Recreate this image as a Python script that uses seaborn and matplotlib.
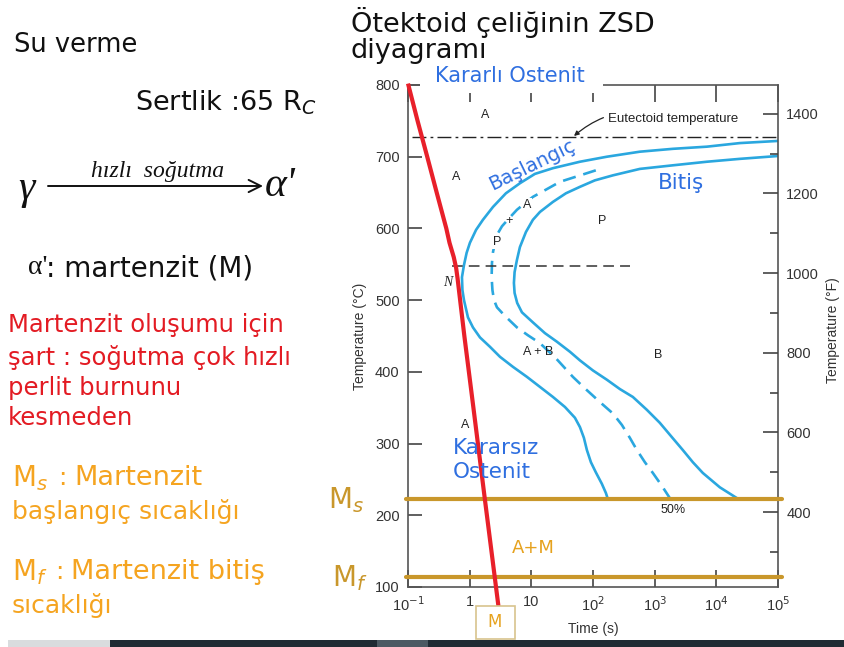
import matplotlib
matplotlib.use("Agg")
import matplotlib.pyplot as plt
from matplotlib.patches import Rectangle
import seaborn as sns

# ---------------- data ----------------
# time in seconds, temperature in °C
start_t = [100000, 24000, 7020, 1970, 575, 168, 61.4, 22.4, 11.4, 6.53, 3.87, 2.39, 1.64, 1.27,
           1.01, 0.893, 0.809, 0.750, 0.763, 0.809, 0.938, 1.13, 1.47, 2.13, 3.10, 5.03, 8.49,
           13.8, 22.4, 35.1, 50.9, 61.4, 71.2, 79.6, 92.5, 111, 139, 162, 172]
start_T = [722, 719, 714, 711, 707, 700, 693, 684, 676, 663, 649, 630, 612, 598,
           580, 566, 549, 532, 514, 500, 476, 462, 448, 435, 421, 407, 393,
           379, 365, 351, 336, 323, 308, 291, 274, 260, 244, 231, 224]

finish_t = [100000, 24000, 7020, 1970, 575, 210, 107, 61.4, 36.4, 22.4, 13.8, 10.6, 8.17, 6.53,
            5.84, 5.35, 5.22, 5.35, 5.90, 7.04, 10.6, 16.6, 26.0, 42.3, 61.4, 99.6, 168, 273,
            443, 748, 1210, 1900, 2860, 4160, 6040, 11400, 21500]
finish_T = [701, 697, 693, 688, 683, 674, 667, 658, 649, 637, 623, 612, 595, 574,
            556, 539, 524, 510, 496, 483, 469, 454, 442, 428, 416, 402, 389, 376,
            365, 347, 329, 309, 291, 274, 259, 239, 224]

half_t = [111, 56.9, 29.1, 17.2, 10.6, 7.59, 5.84, 4.34, 3.34, 2.77, 2.57, 2.39, 2.30, 2.27,
          2.34, 2.48, 2.77, 3.73, 5.84, 8.81, 13.8, 25.0, 47.2, 73.9, 129, 210, 294, 396,
          515, 694, 935, 1310, 1760]
half_T = [681, 673, 665, 654, 644, 634, 626, 614, 603, 591, 580, 567, 552, 532,
          514, 500, 490, 478, 462, 451, 440, 419, 393, 377, 358, 342, 326, 308,
          291, 274, 259, 241, 224]

cool_t = [0.1, 0.143, 0.205, 0.292, 0.418, 0.471, 0.552, 0.603, 0.637, 0.82, 1.15, 1.76, 2.93]
cool_T = [802, 750, 700, 650, 600, 580, 560, 545, 530, 450, 350, 223, 73]

nose_t = [0.52, 400]
nose_T = [548, 548]

eutectoid_T = 728
ms_T = 223
mf_T = 114

x_ticks = [0.1, 1, 10, 100, 1000, 10000, 100000]
x_labels = ["10$^{-1}$", "1", "10", "10$^{2}$", "10$^{3}$", "10$^{4}$", "10$^{5}$"]
y_ticks_C = [100, 200, 300, 400, 500, 600, 700, 800]
y_ticks_F = [400, 600, 800, 1000, 1200, 1400]
y_minor_F = [300, 500, 700, 900, 1100, 1300]

# ---------------- style ----------------
sns.set_style("white")
plt.rcParams["font.family"] = ["DejaVu Sans"]
plt.rcParams["mathtext.fontset"] = "dejavusans"

W, H = 844, 647
fig = plt.figure(figsize=(W / 100, H / 100), dpi=100)
fig.patch.set_facecolor("white")


def px(x, y):
    return x / W, 1 - y / H


ax = fig.add_axes([408 / W, 60 / H, 370 / W, 502 / H])
ax.set_facecolor("white")

BLUE = "#2aa7df"
RED = "#e8202a"
GOLD = "#c9972b"
TXTBLUE = "#2f6fe0"
ORANGE = "#f5a420"

sns.lineplot(x=start_t, y=start_T, ax=ax, sort=False, estimator=None, color=BLUE, lw=1.9)
sns.lineplot(x=finish_t, y=finish_T, ax=ax, sort=False, estimator=None, color=BLUE, lw=1.9)
sns.lineplot(x=half_t, y=half_T, ax=ax, sort=False, estimator=None, color=BLUE, lw=1.9)
ax.lines[-1].set_dashes((5, 3))
sns.lineplot(x=nose_t, y=nose_T, ax=ax, sort=False, estimator=None, color="#333333", lw=1.1)
ax.lines[-1].set_dashes((7, 4))
ax.axhline(eutectoid_T, xmin=0.01, xmax=1.0, color="#222222", lw=1.0, dashes=(10, 3, 2, 3))

ax.axhline(ms_T, xmin=-0.006, xmax=1.011, color=GOLD, lw=3.0, clip_on=False, zorder=4)
ax.axhline(mf_T, xmin=-0.006, xmax=1.011, color=GOLD, lw=3.0, clip_on=False, zorder=4)

sns.lineplot(x=cool_t, y=cool_T, ax=ax, sort=False, estimator=None, color=RED, lw=3.0)
ax.lines[-1].set_clip_on(False)
ax.lines[-1].set_zorder(5)
ax.lines[-1].set_solid_capstyle("butt")
ax.lines[-1].set_solid_joinstyle("round")

ax.set_xscale("log")
ax.set_xlim(0.1, 100000)
ax.set_ylim(100, 800)
ax.set_xticks(x_ticks)
ax.set_xticklabels(x_labels, fontsize=10.5, color="#333333", family="Liberation Sans")
ax.minorticks_off()
ax.set_yticks(y_ticks_C)
ax.set_yticklabels([str(v) for v in y_ticks_C], fontsize=10.5, color="#333333", family="Liberation Sans")
ax.tick_params(axis="x", which="major", direction="in", length=12, width=1.2, color="#444444",
               top=True, bottom=True, pad=6)
ax.tick_params(axis="y", which="major", direction="in", length=10, width=1.2, color="#444444",
               left=True, pad=6)
ax.set_xlabel("Time (s)", fontsize=10, color="#333333", family="Liberation Sans", labelpad=6)
ax.set_ylabel("Temperature (°C)", fontsize=10, color="#333333", family="Liberation Sans", labelpad=6)
for s in ax.spines.values():
    s.set_color("#555555")
    s.set_linewidth(1.2)

ax2 = ax.twinx()
ax2.set_ylim(212, 1472)
ax2.set_yticks(y_ticks_F)
ax2.set_yticklabels([str(v) for v in y_ticks_F], fontsize=10.5, color="#333333", family="Liberation Sans")
ax2.set_yticks(y_minor_F, minor=True)
ax2.tick_params(axis="y", which="major", direction="in", length=11, width=1.2, color="#444444", pad=6)
ax2.tick_params(axis="y", which="minor", direction="in", length=6, width=1.2, color="#444444")
for s in ax2.spines.values():
    s.set_visible(False)
fig.text(*px(833, 330), "Temperature (°F)", fontsize=10, color="#333333", family="Liberation Sans",
         rotation=90, ha="center", va="center")

# white box behind "Kararlı Ostenit" (covers part of the top frame)
ax.add_patch(Rectangle(px(420, 93), 183 / W, 33 / H, transform=fig.transFigure,
                       facecolor="white", edgecolor="none", clip_on=False, zorder=6))
fig.text(*px(510, 76), "Kararlı Ostenit", color=TXTBLUE, fontsize=15, ha="center", va="center", zorder=7)

# labels inside the diagram
small = dict(fontsize=9, color="#222222", ha="center", va="center", family="Liberation Sans")
for (x, y, s) in [(485, 115, "A"), (456, 177, "A"), (509, 221, "+"),
                  (602, 221, "P"), (538, 352, "A + B"), (658, 355, "B"),
                  (465, 425, "A"), (673, 510, "50%")]:
    fig.text(*px(x, y), s, **small)
for (x, y, s) in [(527, 205, "A"), (497, 242, "P")]:
    fig.text(*px(x, y), s, bbox=dict(facecolor="white", edgecolor="none", pad=0.6), **small)
fig.text(*px(448, 283), "N", fontsize=10, color="#222222", ha="center", va="center",
         family="Liberation Serif", style="italic")
fig.text(*px(532, 165), "Başlangıç", color=TXTBLUE, fontsize=14, rotation=26, ha="center", va="center")
fig.text(*px(681, 183), "Bitiş", color=TXTBLUE, fontsize=15.5, ha="center", va="center")
fig.text(*px(453, 448), "Kararsız", color=TXTBLUE, fontsize=15.5, ha="left", va="center")
fig.text(*px(453, 472), "Ostenit", color=TXTBLUE, fontsize=15.5, ha="left", va="center")
fig.text(*px(533, 548), "A+M", color="#e6a21e", fontsize=13, ha="center", va="center")

# eutectoid annotation
ax.annotate("Eutectoid temperature", xy=px(574, 136), xycoords="figure fraction",
            xytext=px(608, 119), textcoords="figure fraction", fontsize=9.5, color="#222222",
            family="Liberation Sans", ha="left", va="center",
            arrowprops=dict(arrowstyle="-|>", color="#222222", lw=0.9, mutation_scale=7,
                            connectionstyle="arc3,rad=0.3", shrinkA=1, shrinkB=0))

# Ms / Mf labels
fig.text(*px(346, 500), "M$_s$", color=GOLD, fontsize=20, ha="center", va="center")
fig.text(*px(350, 578), "M$_f$", color=GOLD, fontsize=20, ha="center", va="center")

# M box under the cooling line
fig.patches.append(Rectangle(px(476, 639), 39 / W, 33 / H, transform=fig.transFigure,
                             facecolor="white", edgecolor="#d8c48e", lw=1.2, zorder=1))
fig.text(*px(495, 622), "M", color="#e6a21e", fontsize=12, ha="center", va="center")

# title
fig.text(*px(351, 23), "Ötektoid çeliğinin ZSD", fontsize=19.5, color="#111111", ha="left", va="center")
fig.text(*px(351, 51), "diyagramı", fontsize=19.5, color="#111111", ha="left", va="center")

# left slide text
fig.text(*px(14, 45), "Su verme", fontsize=18.5, color="#111111", ha="left", va="center")
fig.text(*px(135, 103), "Sertlik :65 R$_C$", fontsize=19.5, color="#111111", ha="left", va="center")
fig.text(*px(26, 189), "γ", fontsize=30, color="#111111", ha="center", va="center",
         family="Liberation Serif", style="italic")
fig.text(*px(158, 172), "hızlı  soğutma", fontsize=17, color="#111111", ha="center", va="center",
         family="Liberation Serif", style="italic")
ax.annotate("", xy=px(263, 186), xycoords="figure fraction", xytext=px(48, 186),
            textcoords="figure fraction",
            arrowprops=dict(arrowstyle="->", color="#111111", lw=1.4, mutation_scale=22,
                            shrinkA=0, shrinkB=0))
fig.text(*px(265, 186), "α'", fontsize=30, color="#111111", ha="left", va="center",
         family="Liberation Serif", style="italic")
fig.text(*px(28, 268), "α'", fontsize=20, color="#111111", ha="left", va="center", family="Liberation Serif")
fig.text(*px(46, 268), ": martenzit (M)", fontsize=20, color="#111111", ha="left", va="center")

for y, s in [(325, "Martenzit oluşumu için"), (357, "şart : soğutma çok hızlı"),
             (388, "perlit burnunu"), (418, "kesmeden")]:
    fig.text(*px(8, y), s, fontsize=17.5, color="#e31b23", ha="left", va="center")

# orange definitions
fig.text(*px(12, 478), "M$_s$", fontsize=20, color=ORANGE, ha="left", va="center")
fig.text(*px(58, 478), ":", fontsize=18, color=ORANGE, ha="left", va="center")
fig.text(*px(74, 478), "Martenzit", fontsize=19.5, color=ORANGE, ha="left", va="center")
fig.text(*px(12, 512), "başlangıç sıcaklığı", fontsize=18, color=ORANGE, ha="left", va="center")
fig.text(*px(12, 572), "M$_f$", fontsize=20, color=ORANGE, ha="left", va="center")
fig.text(*px(55, 572), ":", fontsize=18, color=ORANGE, ha="left", va="center")
fig.text(*px(71, 572), "Martenzit bitiş", fontsize=19.5, color=ORANGE, ha="left", va="center")
fig.text(*px(12, 605), "sıcaklığı", fontsize=18, color=ORANGE, ha="left", va="center")

# bottom bar of the slide
fig.patches.append(Rectangle(px(8, 647), 102 / W, 7 / H, transform=fig.transFigure,
                             facecolor="#d9dcde", edgecolor="none"))
fig.patches.append(Rectangle(px(110, 647), 734 / W, 7 / H, transform=fig.transFigure,
                             facecolor="#1f2c34", edgecolor="none"))
fig.patches.append(Rectangle(px(377, 647), 51 / W, 7 / H, transform=fig.transFigure,
                             facecolor="#4b5a63", edgecolor="none"))

fig.savefig("out.png", dpi=100, facecolor="white")
